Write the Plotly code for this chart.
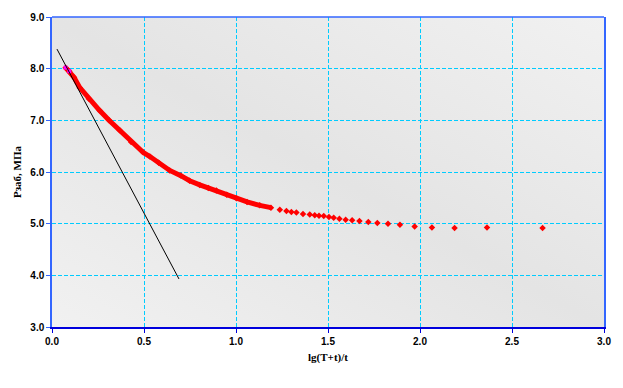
import base64
import plotly.graph_objects as go

# ---- data ----
x_dense = [0.074, 0.094, 0.12, 0.151, 0.20, 0.259, 0.31, 0.368, 0.43, 0.495, 0.532,
           0.58, 0.640, 0.70, 0.748, 0.803, 0.85, 0.893, 0.95, 1.002, 1.06, 1.129, 1.19]
y_dense = [8.02, 7.95, 7.83, 7.633, 7.42, 7.19, 7.00, 6.81, 6.58, 6.38, 6.30,
           6.18, 6.03, 5.93, 5.83, 5.75, 5.69, 5.64, 5.56, 5.49, 5.42, 5.355, 5.31]

x_sparse = [1.238, 1.274, 1.301, 1.328, 1.364, 1.401, 1.428, 1.451, 1.477, 1.505,
            1.531, 1.562, 1.596, 1.631, 1.671, 1.719, 1.768, 1.826, 1.891, 1.971,
            2.065, 2.188, 2.364, 2.666]
y_sparse = [5.271, 5.246, 5.227, 5.214, 5.189, 5.176, 5.164, 5.151, 5.146, 5.127,
            5.114, 5.095, 5.078, 5.064, 5.051, 5.032, 5.013, 5.000, 4.981, 4.943,
            4.924, 4.918, 4.924, 4.918]

x_start = [0.074, 0.094]
y_start = [8.02, 7.95]

x_tangent = [0.027, 0.690]
y_tangent = [8.379, 3.93]

x_ticks = [0.0, 0.5, 1.0, 1.5, 2.0, 2.5, 3.0]
y_ticks = [3.0, 4.0, 5.0, 6.0, 7.0, 8.0, 9.0]

x_title = "lg(T+t)/t"
y_title = "Рзаб, МПа"

# ---- figure ----
RED = "#ff0000"
fig = go.Figure()

fig.add_trace(go.Scatter(x=x_dense, y=y_dense, mode="lines+markers",
                         line=dict(color=RED, width=5),
                         marker=dict(symbol="diamond", size=5, color=RED),
                         showlegend=False, hoverinfo="skip"))
fig.add_trace(go.Scatter(x=x_sparse, y=y_sparse, mode="markers",
                         marker=dict(symbol="diamond", size=5, color=RED),
                         showlegend=False))
fig.add_trace(go.Scatter(x=x_start, y=y_start, mode="markers",
                         marker=dict(symbol="square", size=4, color="#ff00ff"),
                         showlegend=False))
fig.add_trace(go.Scatter(x=x_tangent, y=y_tangent, mode="lines",
                         line=dict(color="black", width=1),
                         showlegend=False))

svg = ("<svg xmlns='http://www.w3.org/2000/svg' width='552' height='316' "
       "preserveAspectRatio='none'><defs><linearGradient id='g' x1='0' y1='1' x2='1' y2='0'>"
       "<stop offset='0' stop-color='#f1f1f1'/><stop offset='0.5' stop-color='#e4e4e4'/>"
       "<stop offset='1' stop-color='#f1f1f1'/></linearGradient></defs>"
       "<rect width='552' height='316' fill='url(#g)'/></svg>")
uri = "data:image/svg+xml;base64," + base64.b64encode(svg.encode()).decode()
fig.add_layout_image(source=uri, xref="paper", yref="paper", x=0, y=1,
                     sizex=1, sizey=1, sizing="stretch", layer="below",
                     xanchor="left", yanchor="top")

grid = dict(showgrid=True, gridcolor="#00ccff", gridwidth=1, griddash="4px,2px")
tickfont = dict(family="Liberation Sans, Arial, sans-serif", size=10, color="black")
titlefont = dict(family="Liberation Serif, Times New Roman, serif", size=11, color="black")

fig.update_layout(
    width=623, height=388,
    margin=dict(l=52, r=19, t=11, b=61),
    paper_bgcolor="white", plot_bgcolor="rgba(0,0,0,0)",
    xaxis=dict(range=[0, 3], tickvals=x_ticks, ticktext=[f"<b>{v:.1f}</b>" for v in x_ticks],
               showline=True, linecolor="#0000dd", linewidth=1.5,
               ticks="outside", ticklen=4, tickcolor="#0000dd", tickfont=tickfont,
               zeroline=False, title=dict(text=f"<b>{x_title}</b>", font=titlefont, standoff=8),
               **grid),
    yaxis=dict(range=[3, 9], tickvals=y_ticks, ticktext=[f"<b>{v:.1f}</b>" for v in y_ticks],
               showline=True, linecolor="#3366ff", linewidth=1.5, mirror=True,
               ticks="outside", ticklen=4, tickcolor="#3366ff", tickfont=tickfont,
               zeroline=False, title=dict(text=f"<b>{y_title}</b>", font=titlefont, standoff=6),
               **grid),
    shapes=[dict(type="line", xref="paper", yref="paper", x0=0, x1=1, y0=1, y1=1,
                 line=dict(color="#3366ff", width=1.5))],
)

fig.write_html("out.html")
